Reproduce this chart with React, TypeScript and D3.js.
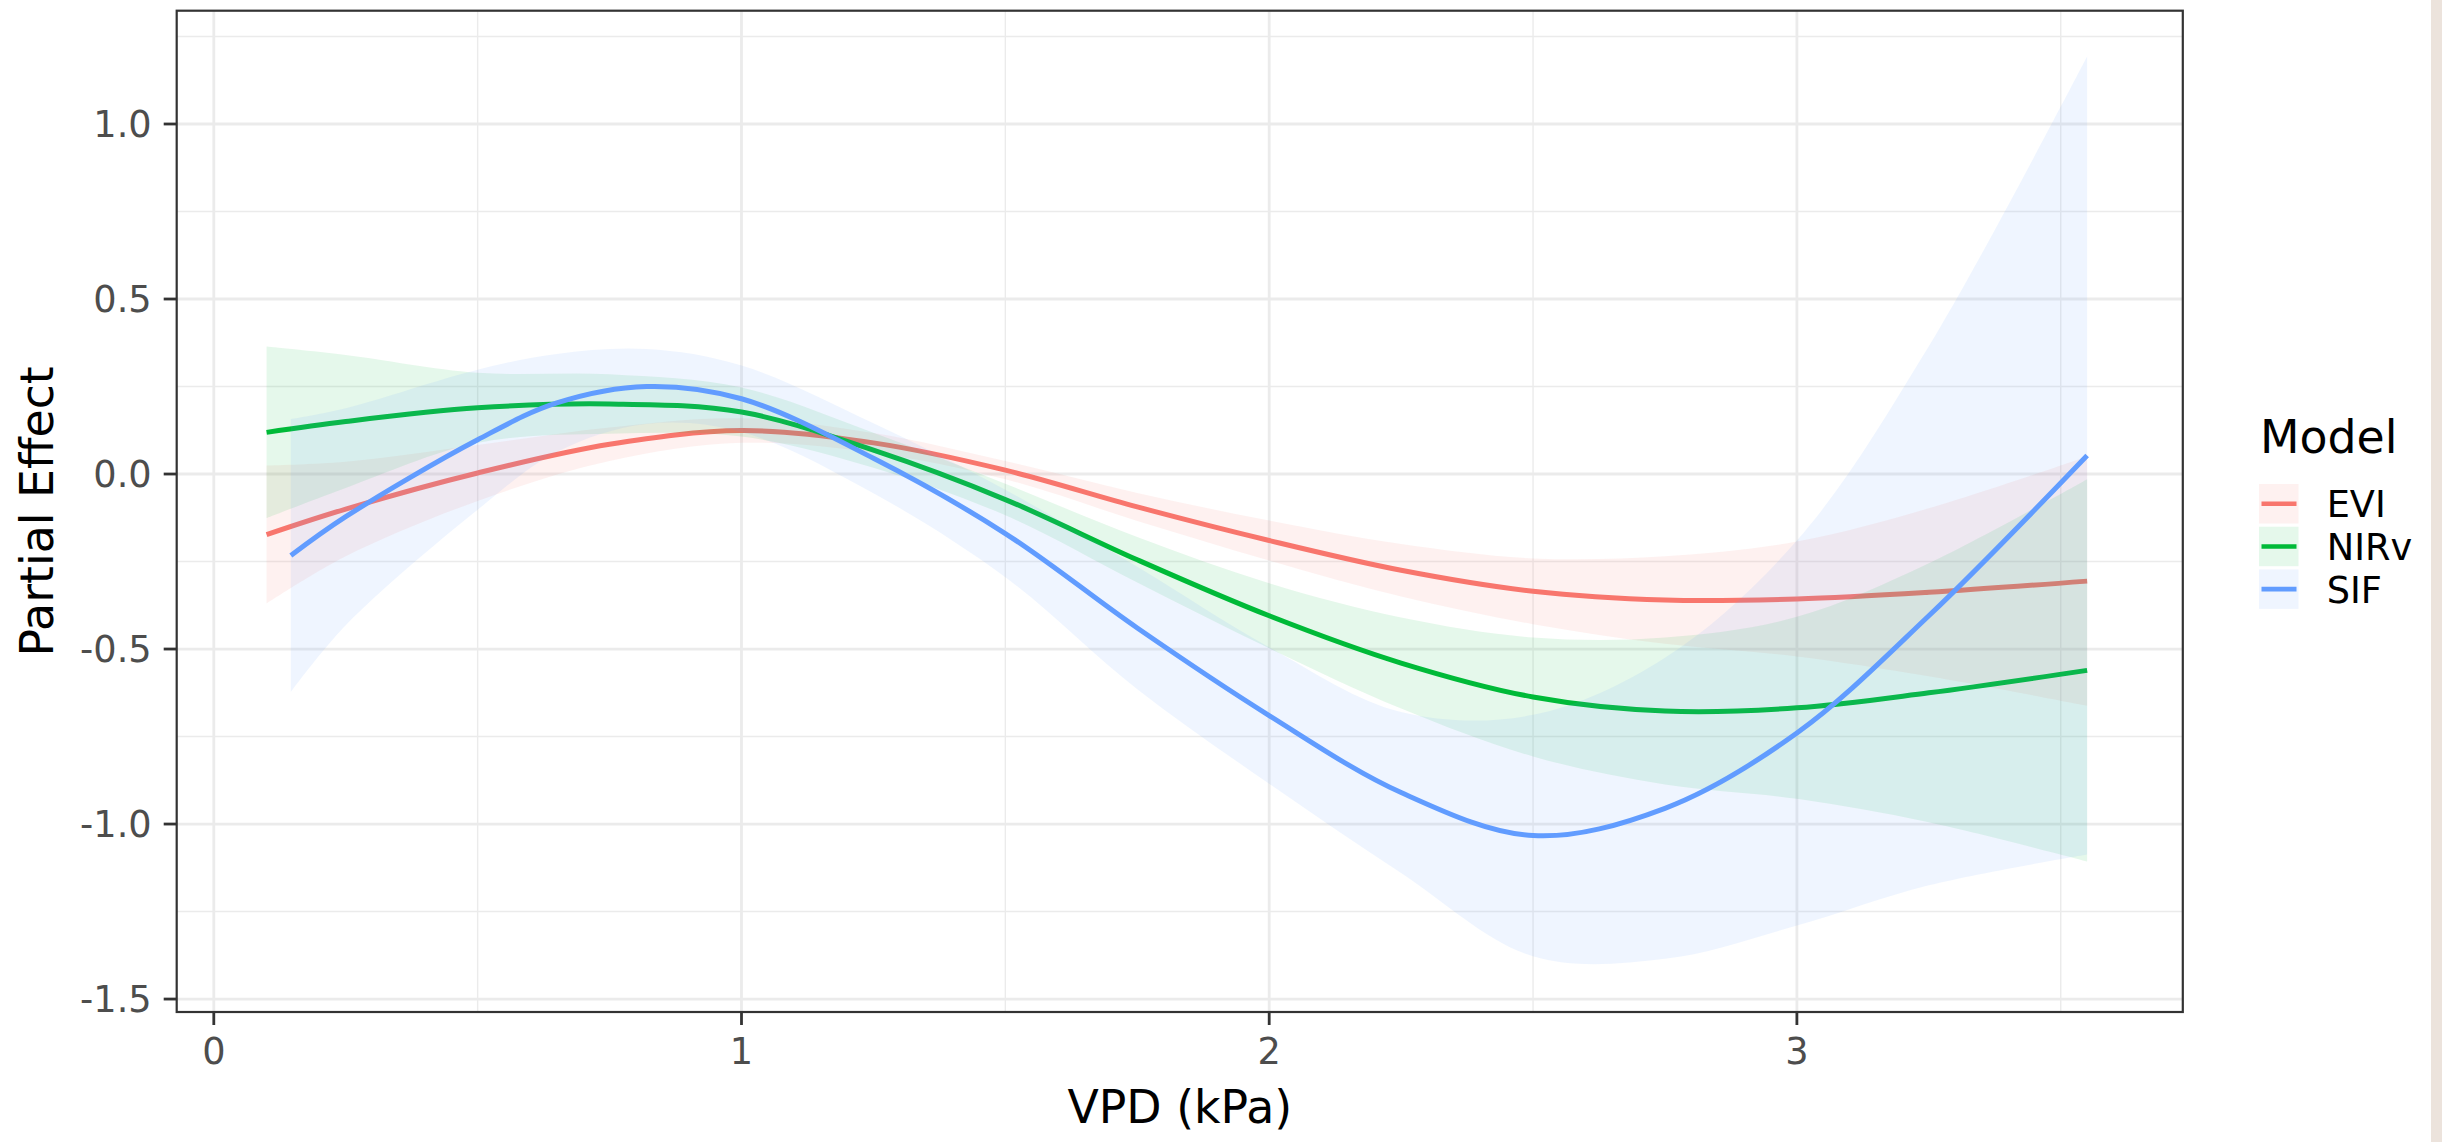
import React from 'react';
import * as d3 from 'd3';

// ---------------- data ----------------
const MODELS = ['EVI', 'NIRv', 'SIF'];
const COLORS = ['#F8766D', '#00BA38', '#619CFF'];

const EVI_X = [0.10, 0.25, 0.50, 0.75, 1.00, 1.25, 1.50, 1.75, 2.00, 2.25, 2.50, 2.75, 3.00, 3.25, 3.55];
const EVI_FIT = [-0.173, -0.100, 0.003, 0.085, 0.124, 0.089, 0.011, -0.094, -0.190, -0.275, -0.335, -0.360, -0.357, -0.338, -0.306];
const EVI_LO = [-0.370, -0.235, -0.077, 0.037, 0.089, 0.061, -0.015, -0.134, -0.247, -0.350, -0.429, -0.485, -0.521, -0.578, -0.662];
const EVI_HI = [0.024, 0.035, 0.083, 0.133, 0.159, 0.117, 0.037, -0.054, -0.133, -0.200, -0.241, -0.235, -0.193, -0.098, 0.050];

const NIRV_X = [0.10, 0.25, 0.50, 0.75, 1.00, 1.25, 1.50, 1.75, 2.00, 2.25, 2.50, 2.75, 3.00, 3.25, 3.55];
const NIRV_FIT = [0.119, 0.150, 0.189, 0.200, 0.177, 0.068, -0.073, -0.245, -0.405, -0.540, -0.637, -0.677, -0.668, -0.625, -0.561];
const NIRV_LO = [-0.126, -0.040, 0.089, 0.115, 0.107, 0.018, -0.118, -0.310, -0.498, -0.670, -0.807, -0.887, -0.928, -0.995, -1.107];
const NIRV_HI = [0.364, 0.340, 0.289, 0.285, 0.247, 0.118, -0.028, -0.180, -0.312, -0.410, -0.467, -0.467, -0.408, -0.255, -0.015];

const SIF_X = [0.146, 0.25, 0.50, 0.65, 0.82, 1.00, 1.25, 1.50, 1.75, 2.00, 2.25, 2.50, 2.75, 3.00, 3.25, 3.55];
const SIF_FIT = [-0.233, -0.122, 0.098, 0.203, 0.250, 0.215, 0.045, -0.170, -0.440, -0.690, -0.910, -1.033, -0.955, -0.740, -0.405, 0.053];
const SIF_LO = [-0.623, -0.432, -0.102, 0.063, 0.143, 0.120, -0.055, -0.295, -0.615, -0.885, -1.140, -1.378, -1.385, -1.290, -1.175, -1.087];
const SIF_HI = [0.157, 0.188, 0.298, 0.343, 0.357, 0.310, 0.145, -0.045, -0.265, -0.495, -0.680, -0.688, -0.525, -0.190, 0.365, 1.193];

const X_TICKS = [0, 1, 2, 3];
const X_MINOR = [0.5, 1.5, 2.5, 3.5];
const Y_TICKS = [-1.5, -1.0, -0.5, 0.0, 0.5, 1.0];
const Y_MINOR = [-1.25, -0.75, -0.25, 0.25, 0.75, 1.25];
const Y_LABELS = ['-1.5', '-1.0', '-0.5', '0.0', '0.5', '1.0'];
const X_LABELS = ['0', '1', '2', '3'];

const X_TITLE = 'VPD (kPa)';
const Y_TITLE = 'Partial Effect';
const LEGEND_TITLE = 'Model';

// ---------------- layout ----------------
const W = 2442;
const H = 1142;
const P = { left: 176.7, right: 2182.8, top: 10.7, bottom: 1012 };
const FONT = '"DejaVu Sans", Verdana, sans-serif';
const TICK_FS = 36.7;
const TITLE_FS = 45.8;

const x = d3.scaleLinear().domain([-0.0703, 3.7313]).range([P.left, P.right]);
const y = d3.scaleLinear().domain([-1.537, 1.3237]).range([P.bottom, P.top]);

type Row = { x: number; fit: number; lo: number; hi: number };
const build = (xs: number[], fit: number[], lo: number[], hi: number[]): Row[] =>
  xs.map((v, i) => ({ x: v, fit: fit[i], lo: lo[i], hi: hi[i] }));

const SERIES: Row[][] = [
  build(EVI_X, EVI_FIT, EVI_LO, EVI_HI),
  build(NIRV_X, NIRV_FIT, NIRV_LO, NIRV_HI),
  build(SIF_X, SIF_FIT, SIF_LO, SIF_HI),
];

const curve = d3.curveCatmullRom.alpha(0.5);
const area = d3
  .area<Row>()
  .x((d) => x(d.x))
  .y0((d) => y(d.lo))
  .y1((d) => y(d.hi))
  .curve(curve);
const line = d3
  .line<Row>()
  .x((d) => x(d.x))
  .y((d) => y(d.fit))
  .curve(curve);

export default function App() {
  const capHalf = (TICK_FS * 0.729) / 2;
  const keyTops = [484, 526.7, 569.4];
  const keySize = 39.5;
  return (
    <svg
      width={W}
      height={H}
      viewBox={`0 0 ${W} ${H}`}
      style={{ position: 'absolute', left: 0, top: 0, background: '#ffffff' }}
      fontFamily={FONT}
    >
      <rect x={0} y={0} width={W} height={H} fill="#ffffff" />
      <rect x={2431} y={0} width={W - 2431} height={H} fill="#ece3dc" />

      <defs>
        <clipPath id="panel-clip">
          <rect x={P.left} y={P.top} width={P.right - P.left} height={P.bottom - P.top} />
        </clipPath>
      </defs>

      {/* grid */}
      <g clipPath="url(#panel-clip)">
        {Y_MINOR.map((v) => (
          <line key={'ym' + v} x1={P.left} x2={P.right} y1={y(v)} y2={y(v)} stroke="#ebebeb" strokeWidth={1.4} />
        ))}
        {X_MINOR.map((v) => (
          <line key={'xm' + v} x1={x(v)} x2={x(v)} y1={P.top} y2={P.bottom} stroke="#ebebeb" strokeWidth={1.4} />
        ))}
        {Y_TICKS.map((v) => (
          <line key={'yM' + v} x1={P.left} x2={P.right} y1={y(v)} y2={y(v)} stroke="#ebebeb" strokeWidth={2.8} />
        ))}
        {X_TICKS.map((v) => (
          <line key={'xM' + v} x1={x(v)} x2={x(v)} y1={P.top} y2={P.bottom} stroke="#ebebeb" strokeWidth={2.8} />
        ))}

        {SERIES.map((rows, i) => (
          <g key={MODELS[i]}>
            <path d={area(rows) || ''} fill={COLORS[i]} fillOpacity={0.1} stroke="none" />
            <path d={line(rows) || ''} fill="none" stroke={COLORS[i]} strokeWidth={5} strokeLinejoin="round" />
          </g>
        ))}
      </g>

      {/* panel border */}
      <rect
        x={P.left}
        y={P.top}
        width={P.right - P.left}
        height={P.bottom - P.top}
        fill="none"
        stroke="#333333"
        strokeWidth={2.2}
      />

      {/* y axis */}
      {Y_TICKS.map((v, i) => (
        <g key={'yt' + v}>
          <line x1={P.left - 13} x2={P.left} y1={y(v)} y2={y(v)} stroke="#333333" strokeWidth={2.8} />
          <text x={151.7} y={y(v) + capHalf} textAnchor="end" fontSize={TICK_FS} fill="#4d4d4d">
            {Y_LABELS[i]}
          </text>
        </g>
      ))}

      {/* x axis */}
      {X_TICKS.map((v, i) => (
        <g key={'xt' + v}>
          <line x1={x(v)} x2={x(v)} y1={P.bottom} y2={P.bottom + 13} stroke="#333333" strokeWidth={2.8} />
          <text x={x(v)} y={1064} textAnchor="middle" fontSize={TICK_FS} fill="#4d4d4d">
            {X_LABELS[i]}
          </text>
        </g>
      ))}

      {/* axis titles */}
      <text x={(P.left + P.right) / 2} y={1123} textAnchor="middle" fontSize={TITLE_FS} fill="#000000">
        {X_TITLE}
      </text>
      <text
        transform={`translate(53, ${(P.top + P.bottom) / 2}) rotate(-90)`}
        textAnchor="middle"
        fontSize={TITLE_FS}
        fill="#000000"
      >
        {Y_TITLE}
      </text>

      {/* legend */}
      <text x={2260} y={453} fontSize={TITLE_FS} fill="#000000">
        {LEGEND_TITLE}
      </text>
      {MODELS.map((m, i) => {
        const top = keyTops[i];
        const cy = top + keySize / 2;
        return (
          <g key={'lg' + m}>
            <rect x={2259} y={top} width={keySize} height={keySize} fill={COLORS[i]} fillOpacity={0.1} />
            <line x1={2261.5} x2={2296.5} y1={cy} y2={cy} stroke={COLORS[i]} strokeWidth={4.6} />
            <text x={2326.7} y={cy + capHalf} fontSize={TICK_FS} fill="#000000">
              {m}
            </text>
          </g>
        );
      })}
    </svg>
  );
}
